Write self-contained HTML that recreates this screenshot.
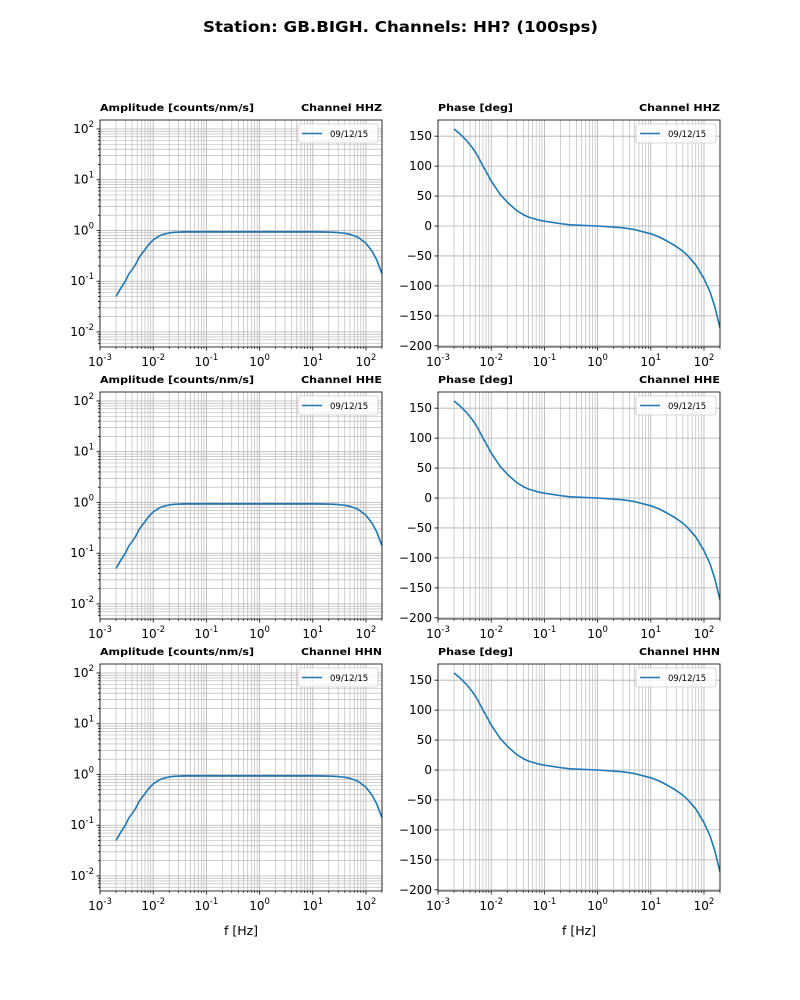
<!DOCTYPE html>
<html><head><meta charset="utf-8">
<style>
html,body{margin:0;padding:0;background:#fff;}
svg{display:block;font-family:"DejaVu Sans","Liberation Sans",sans-serif;}
</style></head>
<body>
<svg id="fig" width="800" height="1000" viewBox="0 0 800 1000" xmlns="http://www.w3.org/2000/svg">
<rect width="800" height="1000" fill="#fff"/>
<text x="203" y="32" font-size="15.5" font-weight="bold" textLength="395" lengthAdjust="spacingAndGlyphs">Station: GB.BIGH. Channels: HH? (100sps)</text>
</svg>
<script>
const channels = ["HHZ","HHE","HHN"];
const freqs = [0.002,0.0025,0.003,0.0035,0.0045,0.0055,0.007,0.0085,0.01,0.013,0.015,0.02,0.025,0.03,0.04,0.05,0.07,0.1,0.2,0.3,1,3,5,10,15,20,30,40,50,70,100,130,160,200];
const ampValues = [0.05,0.075,0.1,0.14,0.2,0.3,0.42,0.55,0.65,0.78,0.83,0.9,0.92,0.93,0.94,0.94,0.94,0.94,0.94,0.94,0.94,0.94,0.94,0.94,0.935,0.93,0.91,0.88,0.84,0.74,0.56,0.39,0.26,0.14];
const phaseValues = [162,155,148,142,130,118,100,87,75,60,52,40,32,26,19,15,11,8,4,2,0,-3,-6,-13,-19,-25,-34,-42,-50,-65,-88,-110,-135,-170];
const ampTicks = [-2,-1,0,1,2];
const xTicks = [-3,-2,-1,0,1,2];
const phaseTicks = [150,100,50,0,-50,-100,-150,-200];
const legendLabel = "09/12/15";

const NS="http://www.w3.org/2000/svg";
const svg=document.getElementById('fig');
function el(tag,attrs,parent){const e=document.createElementNS(NS,tag);for(const k in attrs)e.setAttribute(k,attrs[k]);(parent||svg).appendChild(e);return e;}

const XMIN=Math.log10(0.001), XMAX=Math.log10(200);
const rowsTop=[120,392,664], H=227;
const panels=[{x0:100,type:"amp"},{x0:438,type:"phase"}];
const W=282;

channels.forEach((ch,r)=>{
  const y0=rowsTop[r];
  panels.forEach(p=>{
    const g=el('g',{});
    
    
    const xs=v=>p.x0+(Math.log10(v)-XMIN)/(XMAX-XMIN)*W;
    let ys;
    if(p.type==="amp"){const a=2.177,b=-2.296;ys=v=>y0+(a-Math.log10(v))/(a-b)*H;}
    else{const a=177,b=-202;ys=v=>y0+(a-v)/(a-b)*H;}
    for(let d=-3;d<=2;d++)for(let m=1;m<=9;m++){
      const v=m*Math.pow(10,d); if(v>200)continue;
      const x=xs(v);
      const l=el('line',{x1:x,x2:x,y1:y0,y2:y0+H,stroke:"#b0b0b0","stroke-width":m===1?0.8:0.6},g);
      
      
      if(m===1){el('line',{x1:x,x2:x,y1:y0+H,y2:y0+H+3.5,stroke:"#000","stroke-width":0.8},g);}
      else el('line',{x1:x,x2:x,y1:y0+H,y2:y0+H+2,stroke:"#000","stroke-width":0.6},g);
    }
    if(p.type==="amp"){
      for(let d=-3;d<=2;d++)for(let m=1;m<=9;m++){
        const v=m*Math.pow(10,d); const y=ys(v); if(y<y0||y>y0+H)continue;
        const l=el('line',{x1:p.x0,x2:p.x0+W,y1:y,y2:y,stroke:"#b0b0b0","stroke-width":m===1?0.8:0.6},g);
        
        
        el('line',{x1:p.x0-(m===1?3.5:2),x2:p.x0,y1:y,y2:y,stroke:"#000","stroke-width":0.8},g);
      }
      ampTicks.forEach(t=>{
        const y=ys(Math.pow(10,t));
        const tx=el('text',{x:p.x0-6,y:y+4,"text-anchor":"end","font-size":12},g);
        
        
        tx.innerHTML='10<tspan dy="-6" font-size="8.5">'+t+'</tspan>';
      });
    } else {
      phaseTicks.forEach(t=>{
        const y=ys(t);
        const l=el('line',{x1:p.x0,x2:p.x0+W,y1:y,y2:y,stroke:"#b0b0b0","stroke-width":0.8},g);
        
        
        el('line',{x1:p.x0-3.5,x2:p.x0,y1:y,y2:y,stroke:"#000","stroke-width":0.8},g);
        const tx=el('text',{x:p.x0-6,y:y+4,"text-anchor":"end","font-size":12},g);
        
        
        tx.textContent=String(t).replace('-','\u2212');
      });
    }
    xTicks.forEach(t=>{
      const x=xs(Math.pow(10,t));
      const tx=el('text',{x:x,y:y0+H+19,"text-anchor":"middle","font-size":12},g);
      
      
      tx.innerHTML='10<tspan dy="-6" font-size="8.5">'+t+'</tspan>';
    });
    const vals=p.type==="amp"?ampValues:phaseValues;
    const pts=freqs.map((f,i)=>xs(f).toFixed(2)+','+ys(vals[i]).toFixed(2)).join(' ');
    const cp=el('clipPath',{id:'c'+r+p.type},g);
    el('rect',{x:p.x0,y:y0,width:W,height:H},cp);
    const pl=el('polyline',{points:pts,fill:"none",stroke:"#1f77b4","stroke-width":1.6,"stroke-linejoin":"round","clip-path":'url(#c'+r+p.type+')'},g);
    
    
    el('rect',{x:p.x0,y:y0,width:W,height:H,fill:"none",stroke:"#000","stroke-width":0.8},g);
    const lg=el('g',{},g);
    
    
    el('rect',{x:p.x0+W-84,y:y0+4,width:80,height:19,rx:2,fill:"#fff","fill-opacity":0.8,stroke:"#ccc","stroke-width":0.8},lg);
    el('line',{x1:p.x0+W-80,x2:p.x0+W-60,y1:y0+13.5,y2:y0+13.5,stroke:"#1f77b4","stroke-width":1.6},lg);
    const lt=el('text',{x:p.x0+W-52,y:y0+17,"font-size":8.5},lg);
    lt.textContent=legendLabel;
    const t1=el('text',{x:p.x0,y:y0-9,"font-size":10,"font-weight":"bold",textLength:p.type==="amp"?154:75,lengthAdjust:"spacingAndGlyphs"},g);
    
    
    t1.textContent=p.type==="amp"?"Amplitude [counts/nm/s]":"Phase [deg]";
    const t2=el('text',{x:p.x0+W-81,y:y0-9,"font-size":10,"font-weight":"bold",textLength:81,lengthAdjust:"spacingAndGlyphs"},g);
    
    
    t2.textContent="Channel "+ch;
    if(r===2){
      const xl=el('text',{x:p.x0+W/2,y:y0+H+44,"text-anchor":"middle","font-size":12.5},g);
      
      
      xl.textContent="f [Hz]";
    }
  });
});
</script>
</body></html>
